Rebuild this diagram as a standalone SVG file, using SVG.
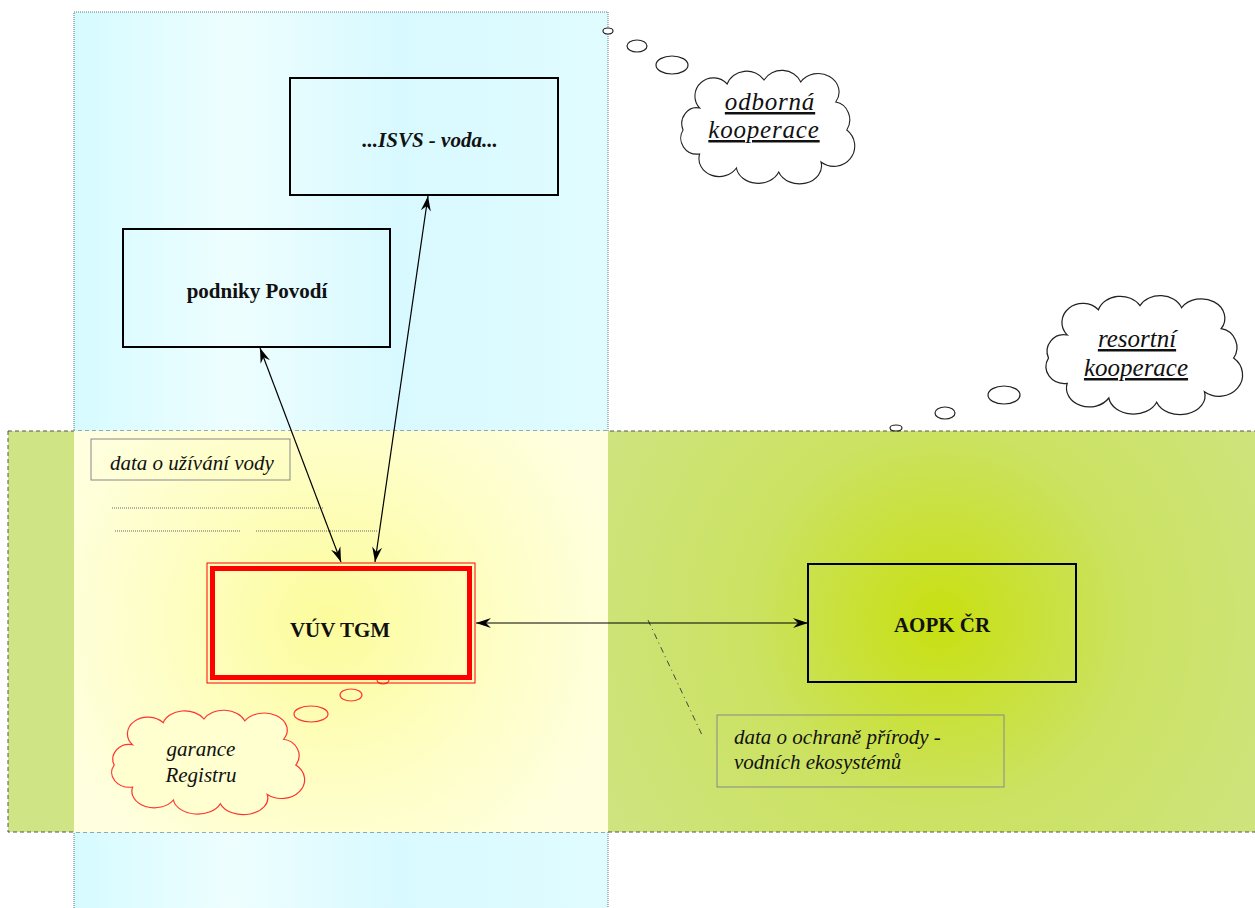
<svg xmlns="http://www.w3.org/2000/svg" width="1255" height="908" viewBox="0 0 1255 908">
<style>
.box{fill:none;stroke:#000;stroke-width:2}
.lbl{font-family:"Liberation Serif",serif;font-weight:bold;font-size:21px;fill:#111;text-anchor:middle}
.note{font-family:"Liberation Serif",serif;font-style:italic;font-size:21px;fill:#111}
.cloudtxt{font-family:"Liberation Serif",serif;font-style:italic;font-size:25px;fill:#111;text-anchor:middle;text-decoration:underline}
.cloud{fill:#fff;stroke:#222;stroke-width:1.2}
.bub{fill:#fff;stroke:#222;stroke-width:1.2}
.rcloud{fill:#ffffd0;stroke:#f33;stroke-width:1.2}
.rbub{fill:none;stroke:#f33;stroke-width:1.2}
.conn{stroke:#000;stroke-width:1.2;fill:none;marker-start:url(#arr);marker-end:url(#arr)}
.dot{stroke:#666;stroke-width:1;stroke-dasharray:1,1;fill:none}
</style>
<defs>
<linearGradient id="gBlue" x1="0" y1="0" x2="1" y2="0">
<stop offset="0" stop-color="#d6fbff"/>
<stop offset="0.3" stop-color="#eefeff"/>
<stop offset="0.6" stop-color="#d8f9ff"/>
<stop offset="1" stop-color="#e0fcff"/>
</linearGradient>
<radialGradient id="gYel" cx="330" cy="620" r="300" gradientUnits="userSpaceOnUse">
<stop offset="0" stop-color="#fcfc9c"/>
<stop offset="0.6" stop-color="#fefec8"/>
<stop offset="1" stop-color="#ffffe0"/>
</radialGradient>
<radialGradient id="gGrn" cx="940" cy="620" r="420" gradientUnits="userSpaceOnUse">
<stop offset="0" stop-color="#c8e010"/>
<stop offset="0.45" stop-color="#cbe262"/>
<stop offset="1" stop-color="#cfe484"/>
</radialGradient>
<marker id="arr" viewBox="0 -6 16 12" refX="15" refY="0" markerWidth="16" markerHeight="12" markerUnits="userSpaceOnUse" orient="auto-start-reverse">
<path d="M0,-5 L15,0 L0,5 L5,0 Z" fill="#000"/>
</marker>
<path id="cloudShape" d="M30,40 A20,18 0 0 1 60,16 A22,18 0 0 1 100,12 A22,18 0 0 1 140,14 A22,18 0 0 1 178,34 A18,18 0 0 1 190,62 A20,18 0 0 1 162,94 A24,18 0 0 1 116,104 A24,18 0 0 1 70,100 A22,18 0 0 1 30,86 A18,16 0 0 1 12,62 A16,16 0 0 1 30,40 Z"/>
</defs>

<g id="bands">
<rect x="74" y="12" width="534" height="900" fill="url(#gBlue)" stroke="#5a7a7a" stroke-width="1" stroke-dasharray="1,1"/>
<rect x="8" y="431" width="1260" height="401" fill="url(#gGrn)" stroke="#555" stroke-width="1" stroke-dasharray="4,3"/>
<rect x="74" y="431" width="534" height="401" fill="url(#gYel)"/>
</g>

<g id="cloud-odborna">
<ellipse class="bub" cx="608" cy="31" rx="5" ry="3"/>
<ellipse class="bub" cx="637" cy="46" rx="10" ry="6"/>
<ellipse class="bub" cx="672" cy="65" rx="16" ry="9"/>
<use href="#cloudShape" class="cloud" transform="translate(672,68) scale(0.92,1)"/>
<text class="cloudtxt" x="770" y="110" letter-spacing="0.8">odborná</text>
<text class="cloudtxt" x="764" y="138" letter-spacing="0.8">kooperace</text>
</g>

<g id="cloud-resortni">
<ellipse class="bub" cx="896" cy="428" rx="6" ry="3"/>
<ellipse class="bub" cx="945" cy="413" rx="10" ry="6"/>
<ellipse class="bub" cx="1004" cy="395" rx="16" ry="9"/>
<use href="#cloudShape" class="cloud" transform="translate(1036,293) scale(1.04,1.05)"/>
<text class="cloudtxt" x="1137" y="347">resortní</text>
<text class="cloudtxt" x="1136" y="376">kooperace</text>
</g>

<g id="isvs">
<rect class="box" x="290" y="78" width="268" height="117" fill="#e4fdff"/>
<text class="lbl" x="430" y="147" font-style="italic">...ISVS - voda...</text>
</g>

<g id="povodi">
<rect class="box" x="123" y="229" width="267" height="118"/>
<text class="lbl" x="257" y="298">podniky Povodí</text>
</g>

<g id="note-uzivani">
<rect x="91" y="439" width="199" height="41" fill="none" stroke="#888" stroke-width="1"/>
<text class="note" x="110" y="470">data o užívání vody</text>
<line class="dot" x1="112" y1="508" x2="324" y2="508"/>
<line class="dot" x1="115" y1="531" x2="240" y2="531"/>
<line class="dot" x1="256" y1="531" x2="378" y2="531"/>
</g>

<g id="cloud-garance">
<ellipse class="rbub" cx="383" cy="680" rx="6" ry="4"/>
<ellipse class="rbub" cx="351" cy="695" rx="11" ry="6"/>
<ellipse class="rbub" cx="311" cy="714" rx="17" ry="8"/>
<use href="#cloudShape" class="rcloud" transform="translate(102,708) scale(1.02,0.92)"/>
<text class="note" x="201" y="756" text-anchor="middle" font-size="23">garance</text>
<text class="note" x="201" y="782" text-anchor="middle" font-size="23">Registru</text>
</g>

<g id="vuv">
<rect x="207" y="563" width="268" height="120" fill="none" stroke="#f00" stroke-width="1"/>
<rect x="212.5" y="568.5" width="257" height="109" fill="none" stroke="#f00" stroke-width="5"/>
<text class="lbl" x="340" y="637" font-size="22">VÚV TGM</text>
</g>

<g id="aopk">
<rect class="box" x="808" y="564" width="268" height="118"/>
<text class="lbl" x="942" y="632" font-size="22">AOPK ČR</text>
</g>

<g id="note-ochrana">
<rect x="717" y="715" width="287" height="72" fill="none" stroke="#888" stroke-width="1"/>
<text class="note" x="734" y="744" font-size="22">data o ochraně přírody -</text>
<text class="note" x="734" y="769" font-size="22">vodních ekosystémů</text>
<line x1="648" y1="620" x2="702" y2="735" stroke="#444" stroke-width="1" stroke-dasharray="6,4,1,4"/>
</g>

<g id="connectors">
<line class="conn" x1="260" y1="348" x2="341" y2="562"/>
<line class="conn" x1="428" y1="196" x2="375" y2="562"/>
<line class="conn" x1="476" y1="623" x2="808" y2="623"/>
</g>
</svg>
